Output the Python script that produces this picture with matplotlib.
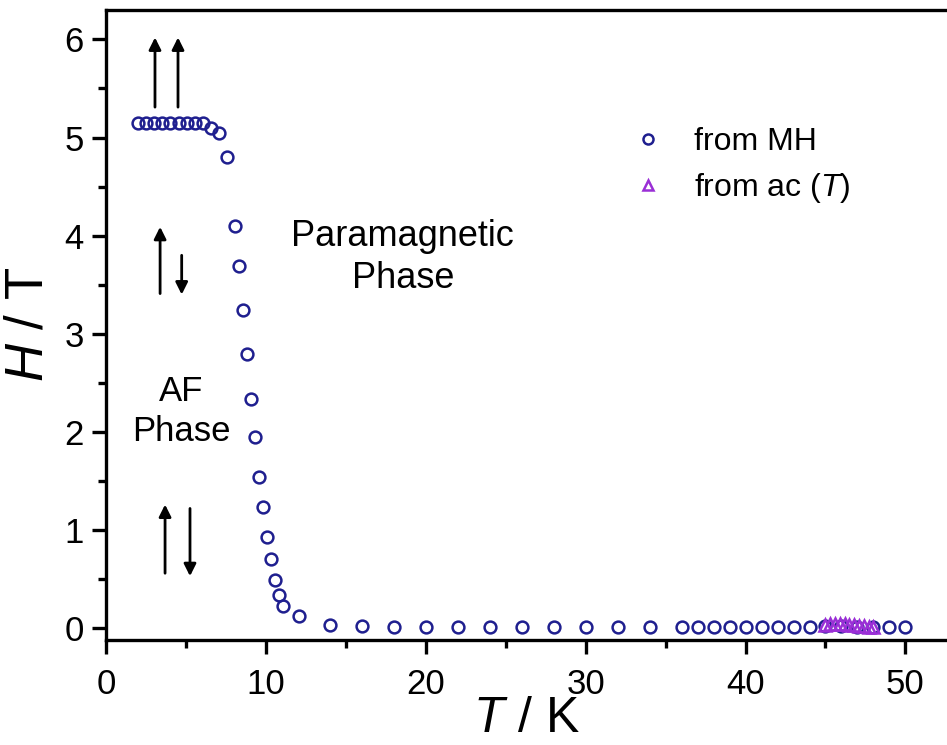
import matplotlib
matplotlib.use('Agg')
import matplotlib.pyplot as plt
from matplotlib.ticker import MultipleLocator

plt.rcParams['font.family'] = ['Liberation Sans', 'DejaVu Sans']
plt.rcParams['mathtext.fontset'] = 'custom'
plt.rcParams['mathtext.rm'] = 'Liberation Sans'
plt.rcParams['mathtext.it'] = 'Liberation Sans:italic'

# phase boundary from M(H) curves
t_mh = [1.98, 2.48, 3.0, 3.52, 4.02, 4.54, 5.04, 5.56, 6.06, 6.54, 7.04, 7.54,
        8.06, 8.29, 8.54, 8.79, 9.04, 9.31, 9.54, 9.79, 10.04, 10.29, 10.54,
        10.79, 11.04, 12.04, 14, 16, 18, 20, 22, 24, 26, 28, 30, 32, 34,
        36, 37, 38, 39, 40, 41, 42, 43, 44, 45, 46, 47, 48, 49, 50]
h_mh = [5.15, 5.15, 5.15, 5.15, 5.15, 5.15, 5.15, 5.15, 5.15, 5.10, 5.05, 4.80,
        4.10, 3.69, 3.24, 2.79, 2.34, 1.95, 1.54, 1.24, 0.93, 0.70, 0.49,
        0.34, 0.23, 0.12, 0.03, 0.02, 0.01, 0.01, 0.01, 0.01, 0.01, 0.01, 0.01, 0.01, 0.01,
        0.01, 0.01, 0.01, 0.01, 0.01, 0.01, 0.01, 0.01, 0.01, 0.02, 0.02, 0.01, 0.01, 0.01, 0.01]

# from ac susceptibility vs T
t_ac = [45.0, 45.3, 45.6, 45.9, 46.2, 46.5, 46.8, 47.1, 47.4, 47.7, 48.0]
h_ac = [0.03, 0.04, 0.04, 0.04, 0.04, 0.03, 0.03, 0.02, 0.02, 0.01, 0.01]

# spin arrows: (x, y_tail, y_head)
arrows = [(3.06, 5.31, 6.02), (4.50, 5.31, 6.02),
          (3.38, 3.41, 4.09), (4.73, 3.80, 3.40),
          (3.69, 0.56, 1.26), (5.25, 1.22, 0.53)]

navy = '#1f1f8f'
purple = '#9a2fd6'

fig = plt.figure(figsize=(9.47, 7.45), dpi=100)
ax = fig.add_axes([0.112, 0.141, 0.888, 0.8456])

ax.plot(t_mh, h_mh, 'o', mfc='none', mec=navy, mew=1.8, ms=8.5, label='from MH')
ax.plot(t_ac, h_ac, '^', mfc='none', mec=purple, mew=1.8, ms=8, label=r'from ac ($\mathit{T}$)')

for x, y0, y1 in arrows:
    ax.annotate('', xy=(x, y1), xytext=(x, y0),
                arrowprops=dict(arrowstyle='-|>', color='black', lw=2,
                                mutation_scale=18, shrinkA=0, shrinkB=0))

ax.text(18.56, 3.78, 'Paramagnetic\nPhase', ha='center', va='center', fontsize=26,
        linespacing=1.25)
ax.text(4.7, 2.21, 'AF\nPhase', ha='center', va='center', fontsize=25, linespacing=1.25)

ax.set_xlim(0, 52.6)
ax.set_ylim(-0.12, 6.30)
ax.xaxis.set_major_locator(MultipleLocator(10))
ax.xaxis.set_minor_locator(MultipleLocator(5))
ax.yaxis.set_major_locator(MultipleLocator(1))
ax.yaxis.set_minor_locator(MultipleLocator(0.5))

for s in ['left', 'bottom', 'top']:
    ax.spines[s].set_linewidth(2.4)
ax.spines['right'].set_visible(False)
ax.tick_params(which='both', direction='out', width=2.4, top=False, right=False)
ax.tick_params(which='major', length=10, labelsize=25)
ax.tick_params(which='minor', length=6)
ax.tick_params(axis='y', pad=6)
ax.tick_params(axis='x', pad=10)

ax.set_xlabel(r'$\mathit{T}$ / K', fontsize=36)
ax.xaxis.set_label_coords(0.5, -0.089)
ax.set_ylabel(r'$\mathit{H}$ / T', fontsize=38, labelpad=8)

ax.legend(loc='upper left', bbox_to_anchor=(0.591, 0.86), frameon=False, fontsize=23,
          handlelength=1.0, handletextpad=0.95, labelspacing=0.45, markerscale=0.85)

fig.savefig('out.png', dpi=100)
